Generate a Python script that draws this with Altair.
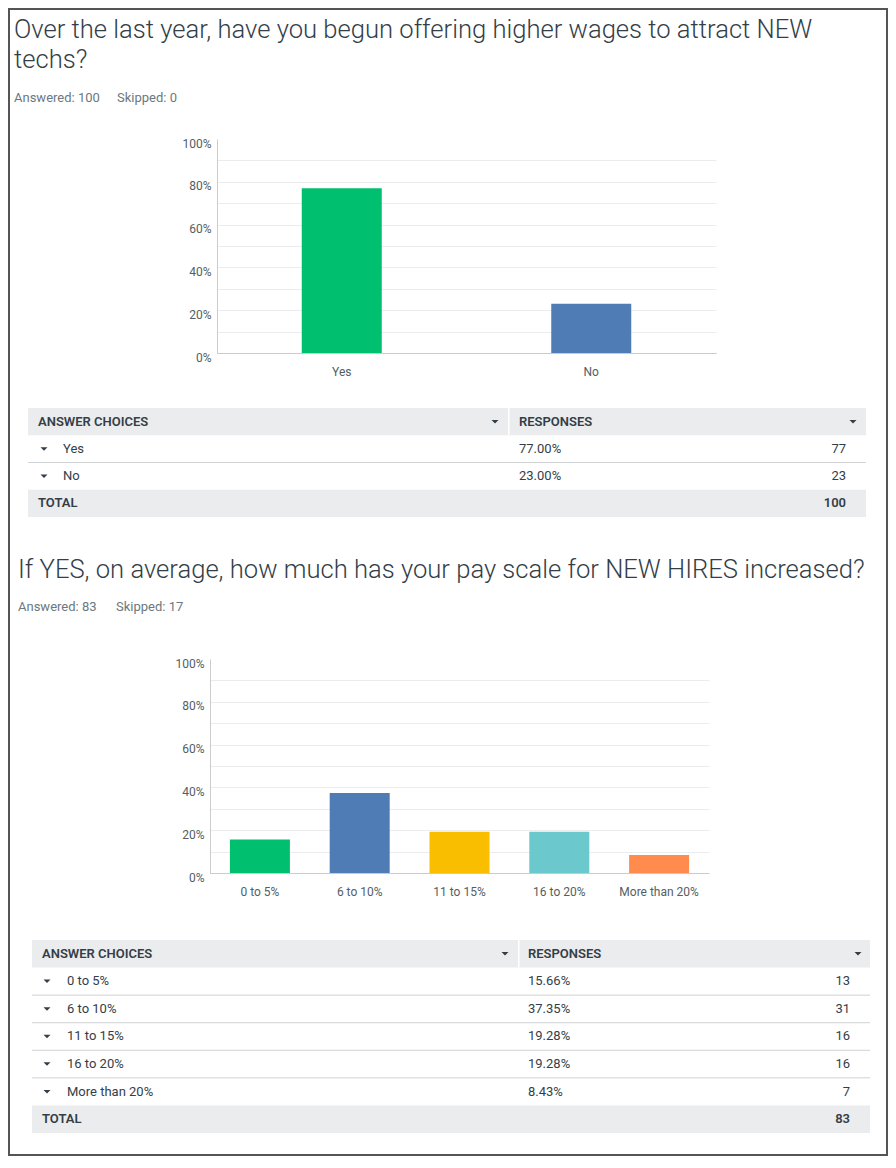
import altair as alt
import pandas as pd

# ---------------- data ----------------
Q1_TITLE_LINES = ["Over the last year, have you begun offering higher wages to attract NEW", "techs?"]
Q1_ANSWERED = "Answered: 100"
Q1_SKIPPED = "Skipped: 0"
Q1_CHOICES = ["Yes", "No"]
Q1_PCT = [77.00, 23.00]
Q1_COUNTS = [77, 23]
Q1_TOTAL = 100

Q2_TITLE = "If YES, on average, how much has your pay scale for NEW HIRES increased?"
Q2_ANSWERED = "Answered: 83"
Q2_SKIPPED = "Skipped: 17"
Q2_CHOICES = ["0 to 5%", "6 to 10%", "11 to 15%", "16 to 20%", "More than 20%"]
Q2_PCT = [15.66, 37.35, 19.28, 19.28, 8.43]
Q2_COUNTS = [13, 31, 16, 16, 7]
Q2_TOTAL = 83

BAR_COLORS = ["#00bf6f", "#507cb6", "#f9be00", "#6bc8cd", "#ff8b4f"]
Y_TICKS = [0.0, 0.1, 0.2, 0.3, 0.4, 0.5, 0.6, 0.7, 0.8, 0.9, 1.0]
HEADER_LEFT = "ANSWER CHOICES"
HEADER_RIGHT = "RESPONSES"
TOTAL_LABEL = "TOTAL"

# ---------------- style ----------------
FONT = "Roboto"
W = 880
DARK = "#333e48"
MUTED = "#6b787f"
AXIS_LABEL = "#545e63"
AXIS_LINE = "#c9cbcd"
GRID = "#ebeced"
HEAD_BG = "#ebeced"
SEP = "#d0d2d3"
FRAME = "#555555"
TRI_PATH = "M-1,-0.5L1,-0.5L0,0.5Z"
TITLE_SIZE = 25.6
TEXT_SIZE = 13

ONE = pd.DataFrame({"k": [0]})


def frame(h, top=False, bottom=False):
    def box(x, x2, y, y2):
        return alt.Chart(ONE).mark_rect(color=FRAME).encode(
            x=alt.value(x), x2=alt.value(x2), y=alt.value(y), y2=alt.value(y2))
    layers = [box(0, 2, 0, h), box(W - 2, W, 0, h)]
    if top:
        layers.append(box(0, W, 0, 2))
    if bottom:
        layers.append(box(0, W, h - 2, h))
    return layers


def text(s, x, y, size=TEXT_SIZE, color=DARK, weight="normal", align="left"):
    return alt.Chart(ONE).mark_text(
        align=align, baseline="middle", fontSize=size, color=color,
        fontWeight=weight, font=FONT,
    ).encode(x=alt.value(x), y=alt.value(y), text=alt.value(s))


def bar_panel(choices, pct, colors, x0, x1, bar_w, h):
    df = pd.DataFrame({"choice": choices, "pct": [p / 100 for p in pct]})
    label_expr = "(round(datum.value*100) % 20 == 0) ? format(datum.value, '.0%') : ''"
    bars = alt.Chart(df).mark_bar(size=bar_w).encode(
        x=alt.X("choice:N",
                scale=alt.Scale(domain=choices, range=[x0, x1], paddingInner=0, paddingOuter=0),
                axis=alt.Axis(title=None, labelAngle=0, ticks=False, tickSize=0, labelPadding=13.5,
                              domainColor=AXIS_LINE, labelColor=AXIS_LABEL, labelFontSize=12,
                              labelFont=FONT, grid=False)),
        y=alt.Y("pct:Q",
                scale=alt.Scale(domain=[0, 1], nice=False),
                axis=alt.Axis(title=None, values=Y_TICKS, labelExpr=label_expr, offset=-x0,
                              ticks=False, tickSize=0, labelPadding=6, labelOffset=4,
                              domainColor=AXIS_LINE, gridColor=GRID, labelOverlap=False,
                              gridOpacity={"condition": {"test": "datum.value >= 1", "value": 0}, "value": 1},
                              labelColor=AXIS_LABEL, labelFontSize=12, labelFont=FONT)),
        color=alt.Color("choice:N", scale=alt.Scale(domain=choices, range=colors[:len(choices)]), legend=None),
    )
    return alt.layer(bars, *frame(h)).properties(width=W, height=h)


def table_layers(choices, pct, counts, total, top, step, c):
    n = len(choices)
    rows = [{"row": 0, "kind": "header", "label": HEADER_LEFT, "pct": HEADER_RIGHT, "count": ""}]
    for i, (ch, p, ct) in enumerate(zip(choices, pct, counts)):
        rows.append({"row": i + 1, "kind": "row", "label": ch, "pct": f"{p:.2f}%", "count": str(ct)})
    rows.append({"row": n + 1, "kind": "total", "label": TOTAL_LABEL, "pct": "", "count": str(total)})
    tdf = pd.DataFrame(rows)
    dom = list(range(n + 2))
    ysc = alt.Scale(domain=dom, range=[top, top + (n + 2) * step], paddingInner=0, paddingOuter=0)
    Y = alt.Y("row:O", scale=ysc, axis=None)
    Y0 = alt.Y("row:O", scale=ysc, axis=None, bandPosition=0)
    base = alt.Chart(tdf)
    ts = dict(baseline="middle", fontSize=TEXT_SIZE, color=DARK, font=FONT)
    L = []
    L.append(base.transform_filter("datum.kind != 'row'").mark_rect(color=HEAD_BG).encode(
        y=Y, x=alt.value(c["left"]), x2=alt.value(c["right"])))
    L.append(base.transform_filter("datum.kind == 'header'").mark_rect(color="white").encode(
        y=Y, x=alt.value(c["sep"]), x2=alt.value(c["sep"] + 1.5)))
    L.append(base.transform_filter("datum.kind == 'row' && datum.row > 1").mark_rule(color=SEP, strokeWidth=1).encode(
        y=Y0, x=alt.value(c["left"]), x2=alt.value(c["right"])))
    # labels
    L.append(base.transform_filter("datum.kind != 'row'").mark_text(align="left", fontWeight=600, **ts).encode(
        y=Y, x=alt.value(c["hdr"]), text="label:N"))
    L.append(base.transform_filter("datum.kind == 'row'").mark_text(align="left", **ts).encode(
        y=Y, x=alt.value(c["label"]), text="label:N"))
    L.append(base.transform_filter("datum.kind == 'header'").mark_text(align="left", fontWeight=600, **ts).encode(
        y=Y, x=alt.value(c["resp"]), text="pct:N"))
    L.append(base.transform_filter("datum.kind == 'row'").mark_text(align="left", **ts).encode(
        y=Y, x=alt.value(c["resp"]), text="pct:N"))
    L.append(base.transform_filter("datum.kind == 'row'").mark_text(align="right", **ts).encode(
        y=Y, x=alt.value(c["count"]), text="count:N"))
    L.append(base.transform_filter("datum.kind == 'total'").mark_text(align="right", fontWeight=600, **ts).encode(
        y=Y, x=alt.value(c["count"]), text="count:N"))
    # triangles
    tri = dict(shape=TRI_PATH, filled=True, size=49, color=DARK, opacity=1, strokeWidth=0)
    L.append(base.transform_filter("datum.kind == 'row'").mark_point(**tri).encode(
        y=Y, x=alt.value(c["tri"])))
    L.append(base.transform_filter("datum.kind == 'header'").mark_point(**tri).encode(
        y=Y, x=alt.value(c["htri1"])))
    L.append(base.transform_filter("datum.kind == 'header'").mark_point(**tri).encode(
        y=Y, x=alt.value(c["htri2"])))
    return L


# ---------------- panels ----------------
H1, H2, H3, H4, H5 = 131, 214, 306, 214, 283

p1 = alt.layer(
    text(Q1_TITLE_LINES[0], 6, 22, size=TITLE_SIZE, weight=300),
    text(Q1_TITLE_LINES[1], 6, 52, size=TITLE_SIZE, weight=300),
    text(Q1_ANSWERED, 6, 90, color=MUTED),
    text(Q1_SKIPPED, 109, 90, color=MUTED),
    *frame(H1, top=True),
).properties(width=W, height=H1)

p2 = bar_panel(Q1_CHOICES, Q1_PCT, BAR_COLORS, 209, 708, 80, H2)

T1 = dict(left=20, right=858, sep=500, hdr=30, label=55, resp=511, count=838,
          tri=36, htri1=487, htri2=845)
p3 = alt.layer(
    *table_layers(Q1_CHOICES, Q1_PCT, Q1_COUNTS, Q1_TOTAL, 55, 27.25, T1),
    text(Q2_TITLE, 10, 217, size=TITLE_SIZE, weight=300),
    text(Q2_ANSWERED, 10, 254, color=MUTED),
    text(Q2_SKIPPED, 108, 254, color=MUTED),
    *frame(H3),
).properties(width=W, height=H3)

p4 = bar_panel(Q2_CHOICES, Q2_PCT, BAR_COLORS, 202, 701, 60, H4)

T2 = dict(left=24, right=862, sep=510, hdr=34, label=59, resp=520, count=842,
          tri=39, htri1=497, htri2=850)
p5 = alt.layer(
    *table_layers(Q2_CHOICES, Q2_PCT, Q2_COUNTS, Q2_TOTAL, 67, 27.57, T2),
    *frame(H5, bottom=True),
).properties(width=W, height=H5)

chart = alt.vconcat(p1, p2, p3, p4, p5, spacing=0, bounds="flush").properties(
    padding=0, background="white"
).resolve_scale(color="independent").configure(
    font=FONT
).configure_view(
    stroke="transparent", strokeWidth=0
)

chart.save("out.html", embed_options={"renderer": "svg", "actions": False})
